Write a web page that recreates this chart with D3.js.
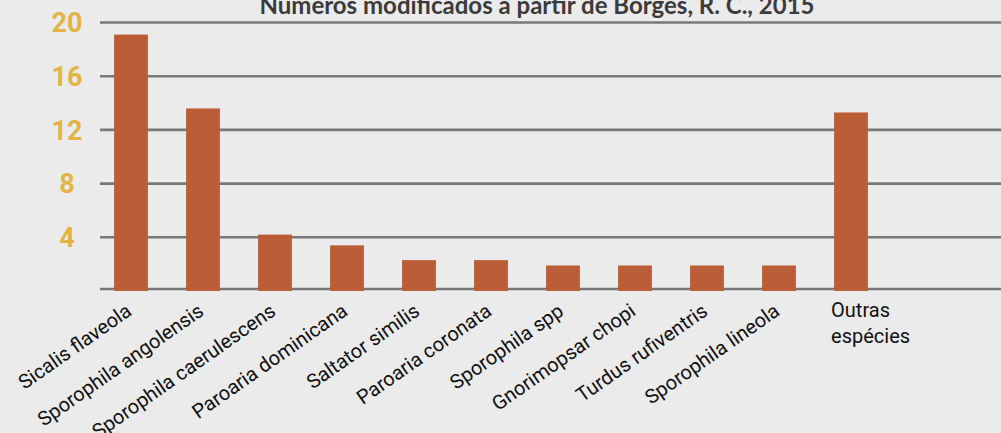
<!DOCTYPE html>
<html lang="pt">

<head>
  <meta charset="UTF-8" />
  <title>Espécies</title>
  <script src="https://d3js.org/d3.v7.min.js"></script>
  <style>
    body {
      margin: 0;
      background-color: #ebebeb;
    }

    svg {
      display: block;
      background-color: #ebebeb;
    }

    .bar {
      fill: #bb5e37;
    }

    .grid line {
      stroke: #787878;
      stroke-width: 2.6;
    }

    .ylab {
      font-family: Roboto, sans-serif;
      font-weight: bold;
      font-size: 27px;
      fill: #e3b443;
    }

    .xlab {
      font-family: Roboto, sans-serif;
      font-size: 20px;
      fill: #111;
    }

    .title {
      font-family: Lato, sans-serif;
      font-weight: bold;
      font-size: 24px;
      fill: #3b3b3b;
    }
  </style>
</head>

<body>
  <script>
    const species = ['Sicalis flaveola', 'Sporophila angolensis', 'Sporophila caerulescens',
      'Paroaria dominicana', 'Saltator similis', 'Paroaria coronata', 'Sporophila spp',
      'Gnorimopsar chopi', 'Turdus rufiventris', 'Sporophila lineola', 'Outras espécies'];
    const values = [19.1, 13.6, 4.2, 3.4, 2.3, 2.3, 1.9, 1.9, 1.9, 1.9, 13.3];
    const yTicks = [0, 4, 8, 12, 16, 20];
    const title = 'Números modificados a partir de Borges, R. C., 2015';

    const w = 1001;
    const h = 433;

    const svg = d3.select('body')
      .append('svg')
      .attr('width', w)
      .attr('height', h);

    const xScale = d3.scaleBand()
      .domain(species)
      .range([95, 887])
      .paddingInner(0.53)
      .paddingOuter(0.265);

    const yScale = d3.scaleLinear()
      .domain([0, 20])
      .range([291, 22.5]);

    // grid lines
    svg.append('g')
      .attr('class', 'grid')
      .selectAll('line')
      .data(yTicks)
      .enter()
      .append('line')
      .attr('x1', 100)
      .attr('x2', w)
      .attr('y1', d => yScale(d) - (d === 0 ? 2 : 0))
      .attr('y2', d => yScale(d) - (d === 0 ? 2 : 0));

    // y labels, no 0
    svg.selectAll('.ylab')
      .data(yTicks.filter(d => d > 0))
      .enter()
      .append('text')
      .attr('class', 'ylab')
      .attr('x', 67)
      .attr('y', d => yScale(d))
      .attr('dy', '0.36em')
      .attr('text-anchor', 'middle')
      .text(d => d);

    svg.selectAll('rect')
      .data(values)
      .enter()
      .append('rect')
      .attr('class', 'bar')
      .attr('x', (d, i) => xScale(species[i]))
      .attr('y', d => yScale(d))
      .attr('width', xScale.bandwidth())
      .attr('height', d => yScale(0) - yScale(d));

    // rotated labels (all but last)
    svg.selectAll('.xlab.rot')
      .data(species.slice(0, -1))
      .enter()
      .append('text')
      .attr('class', 'xlab rot')
      .attr('text-anchor', 'end')
      .attr('transform', d => `translate(${xScale(d) + xScale.bandwidth() / 2 + 2},${h - 119}) rotate(-35)`)
      .text(d => d);

    // last label on two lines
    const last = species[species.length - 1];
    const lastText = svg.append('text')
      .attr('class', 'xlab')
      .attr('x', xScale(last) - 3)
      .attr('y', 317);
    last.split(' ').forEach((word, i) => {
      lastText.append('tspan')
        .attr('x', xScale(last) - 3)
        .attr('dy', i === 0 ? 0 : 26)
        .text(word);
    });

    svg.append('text')
      .attr('class', 'title')
      .attr('x', 537)
      .attr('y', 14)
      .attr('text-anchor', 'middle')
      .text(title);
  </script>
</body>

</html>
